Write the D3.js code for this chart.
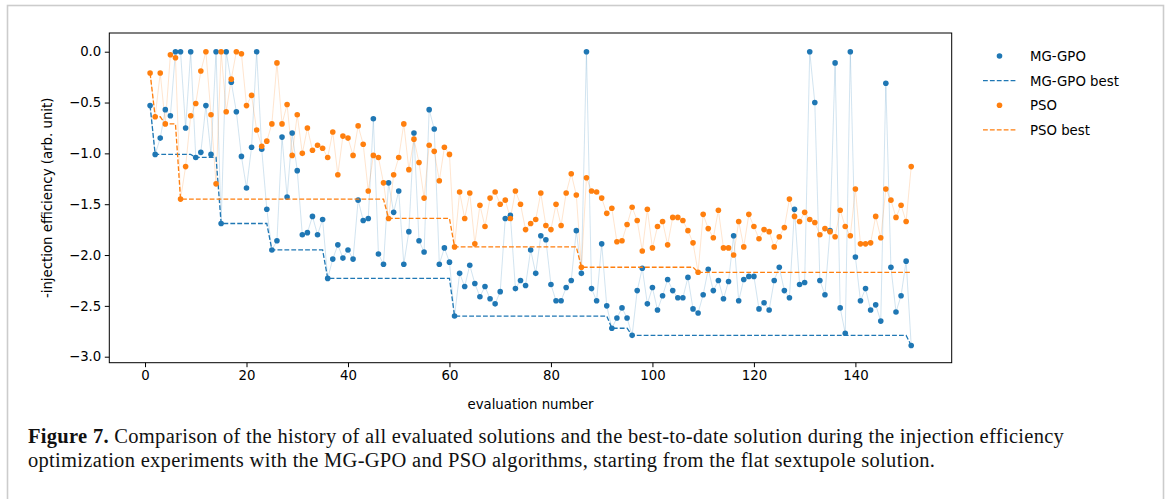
<!DOCTYPE html>
<html>
<head>
<meta charset="utf-8">
<script src="https://cdn.jsdelivr.net/npm/d3@7"></script>
<style>
  body { margin: 0; background: #fff; }
  svg { display: block; }
</style>
</head>
<body>
<div id="chart"></div>
<script>
(function() {

  // -injection efficiency for each evaluation (1..151)
  const mggpo = [-0.53, -1.01, -0.85, -0.57, -0.63, 0, 0, -0.75, 0, -1.04,
    -0.99, -0.53, -1.01, 0, -1.69, 0, -0.30, -0.59, -1.03, -1.34,
    -0.94, 0, -0.96, -1.55, -1.95, -1.86, -0.84, -1.43, -0.80, -1.17,
    -1.80, -1.78, -1.62, -1.80, -1.65, -2.23, -2.04, -1.90, -2.03, -1.95,
    -2.04, -1.46, -1.66, -1.64, -0.66, -1.99, -2.09, -1.29, -1.58, -1.37,
    -2.09, -1.77, -0.80, -1.86, -1.97, -0.57, -0.76, -2.09, -1.93, -2.07,
    -2.60, -2.18, -2.31, -2.10, -2.28, -2.41, -2.31, -2.43, -2.48, -2.36,
    -1.64, -1.61, -2.33, -2.25, -2.30, -1.95, -2.18, -1.81, -1.85, -2.29,
    -2.45, -2.45, -2.32, -2.25, -1.76, -2.18, 0, -2.33, -2.45, -1.89,
    -2.50, -2.72, -2.62, -2.52, -2.62, -2.79, -2.35, -2.13, -2.48, -2.32,
    -2.54, -2.40, -2.24, -2.35, -2.42, -2.42, -2.22, -2.53, -2.57, -2.39,
    -2.14, -2.35, -2.25, -2.43, -2.26, -1.81, -2.45, -2.24, -2.21, -2.21,
    -2.53, -2.47, -2.54, -2.25, -2.12, -2.35, -2.42, -1.55, -2.29, -2.27,
    0, -0.50, -2.25, -2.39, -1.76, -0.11, -2.52, -2.77, 0, -2.02,
    -2.45, -2.33, -2.54, -2.49, -2.65, -0.31, -2.12, -2.56, -2.40, -2.06,
    -2.89];

  const pso = [-0.21, -0.64, -0.21, -0.71, -0.03, -0.06, -1.45, -1.13, -0.63, -0.51,
    -0.19, 0, -0.62, -1.30, 0, -0.59, -0.27, 0, -0.02, -0.53,
    -0.43, -0.77, -0.93, -0.88, -0.71, -0.11, -0.71, -0.52, -1.02, -0.62,
    -1.00, -0.75, -0.97, -0.92, -0.95, -1.04, -0.79, -1.21, -0.83, -0.85,
    -1.02, -0.73, -0.91, -1.37, -1.02, -1.04, -1.29, -1.64, -1.21, -1.04,
    -0.71, -1.16, -0.86, -1.09, -1.44, -0.92, -0.98, -1.27, -0.94, -1.01,
    -1.92, -1.38, -1.64, -1.39, -1.89, -1.51, -1.72, -1.44, -1.38, -1.50,
    -1.46, -1.64, -1.37, -1.50, -1.75, -1.69, -1.65, -1.39, -1.71, -1.75,
    -1.50, -1.71, -1.39, -1.20, -1.41, -2.12, -1.24, -1.37, -1.38, -1.44,
    -1.59, -1.54, -1.87, -1.86, -1.70, -1.53, -1.66, -1.96, -1.55, -1.93,
    -1.72, -1.67, -1.90, -1.63, -1.63, -1.66, -1.76, -1.88, -2.17, -1.60,
    -1.74, -1.83, -1.56, -1.93, -1.93, -2.00, -1.67, -1.92, -1.60, -1.72,
    -1.84, -1.75, -1.77, -1.92, -1.82, -1.73, -1.45, -1.62, -1.67, -1.58,
    -1.65, -1.68, -1.80, -1.74, -1.77, -1.82, -1.56, -1.72, -1.81, -1.35,
    -1.89, -1.89, -1.88, -1.62, -1.83, -1.35, -1.46, -1.63, -1.51, -1.67,
    -1.13];

  const xTicks = [0, 20, 40, 60, 80, 100, 120, 140];
  const yTicks = [0, -0.5, -1.0, -1.5, -2.0, -2.5, -3.0];
  const legendLabels = ['MG-GPO', 'MG-GPO best', 'PSO', 'PSO best'];
  const captionLines = [
    ['Figure 7.', ' Comparison of the history of all evaluated solutions and the best-to-date solution during the injection efficiency'],
    ['', 'optimization experiments with the MG-GPO and PSO algorithms, starting from the flat sextupole solution.']
  ];

  const blue = '#1f77b4';
  const orange = '#ff7f0e';

  // best-to-date = running minimum of the evaluated values
  const bestSoFar = arr => {
    let m = Infinity;
    return arr.map(v => (m = Math.min(m, v)));
  };
  const toPoints = arr => arr.map((v, i) => ({ n: i + 1, v: v }));

  const series = [
    { pts: toPoints(mggpo), best: toPoints(bestSoFar(mggpo)), color: blue },
    { pts: toPoints(pso), best: toPoints(bestSoFar(pso)), color: orange }
  ];

  const width = 1170, height = 499;
  const plot = { left: 109.3, right: 951.7, top: 33, bottom: 362.7 };

  const svg = d3.select('#chart').append('svg')
    .attr('width', width)
    .attr('height', height);

  svg.append('rect').attr('width', width).attr('height', height).attr('fill', '#fff');
  // page frame
  svg.append('rect')
    .attr('x', 7.5).attr('y', 5.5)
    .attr('width', 1156).attr('height', 520)
    .attr('fill', 'none')
    .attr('stroke', '#cccccc')
    .attr('stroke-width', 1.6);

  const x = d3.scaleLinear().domain([-7.04, 158.98]).range([plot.left, plot.right]);
  const y = d3.scaleLinear().domain([-3.059, 0.184]).range([plot.bottom, plot.top]);

  const g = svg.append('g');

  // faint connecting lines
  const thin = d3.line().x(d => x(d.n)).y(d => y(d.v));
  series.forEach(s => {
    g.append('path')
      .datum(s.pts)
      .attr('d', thin)
      .attr('fill', 'none')
      .attr('stroke', s.color)
      .attr('stroke-opacity', 0.2)
      .attr('stroke-width', 1);
  });

  series.forEach(s => {
    g.selectAll(null)
      .data(s.pts)
      .enter()
      .append('circle')
        .attr('cx', d => x(d.n))
        .attr('cy', d => y(d.v))
        .attr('r', 2.8)
        .attr('fill', s.color);
    g.append('path')
      .datum(s.best)
      .attr('d', thin)
      .attr('fill', 'none')
      .attr('stroke', s.color)
      .attr('stroke-width', 1.3)
      .attr('stroke-dasharray', '4.8,2.1');
  });

  // axes
  const xAxis = svg.append('g')
    .attr('transform', `translate(0, ${plot.bottom})`)
    .call(d3.axisBottom(x).tickValues(xTicks).tickSize(4.5).tickPadding(3.5).tickFormat(d3.format('d')));
  const yAxis = svg.append('g')
    .attr('transform', `translate(${plot.left}, 0)`)
    .call(d3.axisLeft(y).tickValues(yTicks).tickSize(4.5).tickPadding(3.5)
      .tickFormat(d => d3.format('.1f')(d).replace('-', '\u2212')));

  [xAxis, yAxis].forEach(a => {
    a.select('.domain').remove();
    a.selectAll('line').attr('stroke', '#000').attr('stroke-width', 1);
    a.selectAll('text')
      .attr('fill', '#000')
      .style('font-family', 'DejaVu Sans')
      .style('font-size', '13.3px');
  });

  svg.append('rect')
    .attr('x', plot.left).attr('y', plot.top)
    .attr('width', plot.right - plot.left)
    .attr('height', plot.bottom - plot.top)
    .attr('fill', 'none')
    .attr('stroke', '#000')
    .attr('stroke-width', 1);

  svg.append('text')
    .text('evaluation number')
    .attr('x', (plot.left + plot.right) / 2)
    .attr('y', 409)
    .attr('text-anchor', 'middle')
    .style('font-family', 'DejaVu Sans')
    .style('font-size', '13.3px');

  svg.append('text')
    .text('-injection efficiency (arb. unit)')
    .attr('transform', `translate(52, ${(plot.top + plot.bottom) / 2}) rotate(-90)`)
    .attr('text-anchor', 'middle')
    .style('font-family', 'DejaVu Sans')
    .style('font-size', '13.3px');

  // legend
  const legend = svg.append('g').attr('transform', 'translate(983, 56)');
  legendLabels.forEach((label, i) => {
    const color = i < 2 ? blue : orange;
    const row = legend.append('g').attr('transform', `translate(0, ${i * 24.6})`);
    if (i % 2 === 0) {
      row.append('circle').attr('cx', 16.5).attr('cy', 0).attr('r', 2.8).attr('fill', color);
    } else {
      row.append('line')
        .attr('x1', 0).attr('x2', 33).attr('y1', 0).attr('y2', 0)
        .attr('stroke', color)
        .attr('stroke-width', 1.3)
        .attr('stroke-dasharray', '4.8,2.1');
    }
    row.append('text')
      .text(label)
      .attr('x', 47)
      .attr('y', 5)
      .style('font-family', 'DejaVu Sans')
      .style('font-size', '13.3px');
  });

  // caption
  captionLines.forEach((parts, i) => {
    const t = svg.append('text')
      .attr('x', 28)
      .attr('y', 443 + i * 23.5)
      .style('font-family', 'Liberation Serif')
      .style('font-size', '20.5px')
      .style('letter-spacing', '0.3px')
      .attr('fill', '#111');
    if (parts[0]) t.append('tspan').text(parts[0]).style('font-weight', 'bold');
    t.append('tspan').text(parts[1]);
  });

}());
</script>
</body>
</html>
